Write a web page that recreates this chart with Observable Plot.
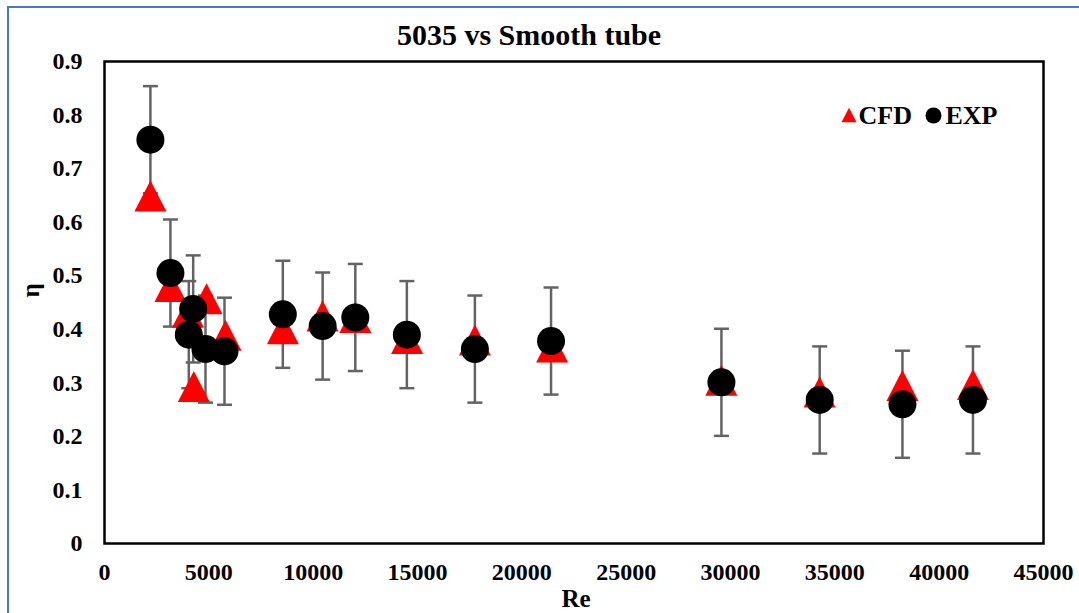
<!DOCTYPE html>
<html>
<head>
<meta charset="utf-8">
<script src="https://cdn.jsdelivr.net/npm/d3@7"></script>
<script src="https://cdn.jsdelivr.net/npm/@observablehq/plot@0.6"></script>
<style>
  html, body { margin: 0; padding: 0; background: #fff; }
  #wrap { position: relative; width: 1079px; height: 613px; overflow: hidden; }
  #border { position: absolute; left: 7px; top: 6px; width: 1200px; height: 800px;
            border: 2px solid #4a78c8; pointer-events: none; }
</style>
</head>
<body>
<div id="wrap"><div id="chart"></div><div id="border"></div></div>
<script>
// ---- data ----
const cfdRe  = [2200, 3160, 4000, 4280, 4890, 5800, 8550, 10450, 12020, 14500, 17750, 21450, 29560, 34270, 38240, 41620];
const cfdEta = [0.649, 0.480, 0.432, 0.293, 0.457, 0.389, 0.401, 0.425, 0.422, 0.383, 0.380, 0.367, 0.305, 0.283, 0.295, 0.297];

const expRe  = [2200, 3160, 4250, 4040, 4840, 5750, 8545, 10455, 12020, 14490, 17750, 21400, 29565, 34275, 38240, 41620];
const expEta = [0.754, 0.505, 0.438, 0.390, 0.363, 0.359, 0.428, 0.406, 0.422, 0.390, 0.363, 0.378, 0.301, 0.268, 0.260, 0.268];
const expErr = [0.1, 0.1, 0.1, 0.1, 0.1, 0.1, 0.1, 0.1, 0.1, 0.1, 0.1, 0.1, 0.1, 0.1, 0.1, 0.1];

const xTicks = [0, 5000, 10000, 15000, 20000, 25000, 30000, 35000, 40000, 45000];
const yTicks = [0, 0.1, 0.2, 0.3, 0.4, 0.5, 0.6, 0.7, 0.8, 0.9];

const titleText = "5035 vs Smooth tube";
const xLabel = "Re";
const yLabel = "η";
const seriesNames = ["CFD", "EXP"];

// ---- tables ----
const cfd = cfdRe.map((re, i) => ({re, eta: cfdEta[i]}));
const exp = expRe.map((re, i) => ({re, eta: expEta[i], lo: expEta[i] - expErr[i], hi: expEta[i] + expErr[i]}));

// Excel-like triangle (bounding box centred)
const triangle = {
  draw(context, size) {
    const a = Math.sqrt(size / Math.PI);
    const h = 0.97 * a;
    context.moveTo(0, -h);
    context.lineTo(a, h);
    context.lineTo(-a, h);
    context.closePath();
  }
};
// horizontal error-bar cap
const cap = {
  draw(context, size) {
    const a = Math.sqrt(size / Math.PI);
    context.moveTo(-a, 0);
    context.lineTo(a, 0);
  }
};

const font = "'Liberation Serif', 'Times New Roman', serif";

const chart = Plot.plot({
  width: 1079,
  height: 613,
  marginLeft: 104,
  marginRight: 36,
  marginTop: 61,
  marginBottom: 70,
  style: {fontFamily: font, fontWeight: "bold", fontSize: "24px", background: "transparent", color: "black"},
  x: {domain: [0, 45000]},
  y: {domain: [0, 0.9]},
  marks: [
    Plot.axisX({ticks: xTicks, tickSize: 0, tickPadding: 19, tickFormat: d3.format("d"), label: null, fontSize: 24}),
    Plot.axisY({ticks: yTicks, tickSize: 0, tickPadding: 22, tickFormat: d => d === 0 ? "0" : d3.format(".1f")(d), label: null, fontSize: 24}),
    // error bars
    Plot.ruleX(exp, {x: "re", y1: "lo", y2: "hi", stroke: "#636363", strokeWidth: 2.5}),
    Plot.dot(exp, {x: "re", y: "hi", symbol: cap, r: 7.5, stroke: "#636363", strokeWidth: 2.5, fill: "none"}),
    Plot.dot(exp, {x: "re", y: "lo", symbol: cap, r: 7.5, stroke: "#636363", strokeWidth: 2.5, fill: "none"}),
    // CFD triangles
    Plot.dot(cfd, {x: "re", y: "eta", symbol: triangle, r: 16, fill: "#ff0000", stroke: "none"}),
    // EXP circles
    Plot.dot(exp, {x: "re", y: "eta", symbol: "circle", r: 14, fill: "#000000", stroke: "none"}),
    Plot.frame({stroke: "black", strokeWidth: 2.5}),
    // title
    Plot.text([titleText], {frameAnchor: "top", lineAnchor: "middle", dx: -45, dy: -26, fontSize: 30, fontWeight: "bold", fill: "black"}),
    // axis labels
    Plot.text([xLabel], {frameAnchor: "bottom", lineAnchor: "middle", dx: 2, dy: 55, fontSize: 25, fontWeight: "bold", fill: "black"}),
    Plot.text([yLabel], {frameAnchor: "left", lineAnchor: "middle", dx: -74, dy: -5, rotate: -90, fontSize: 25, fontWeight: "bold", fill: "black"}),
    // legend
    Plot.dot([seriesNames[0]], {frameAnchor: "top-right", dx: -194.5, dy: 53.5, symbol: triangle, r: 7.5, fill: "#ff0000"}),
    Plot.text([seriesNames[0]], {frameAnchor: "top-right", lineAnchor: "middle", dx: -185, dy: 54, textAnchor: "start", fontSize: 26, fontWeight: "bold", fill: "black"}),
    Plot.dot([seriesNames[1]], {frameAnchor: "top-right", dx: -110, dy: 54, symbol: "circle", r: 8, fill: "#000000"}),
    Plot.text([seriesNames[1]], {frameAnchor: "top-right", lineAnchor: "middle", dx: -98, dy: 54, textAnchor: "start", fontSize: 26, fontWeight: "bold", fill: "black"})
  ]
});
document.getElementById("chart").appendChild(chart);
</script>
</body>
</html>
